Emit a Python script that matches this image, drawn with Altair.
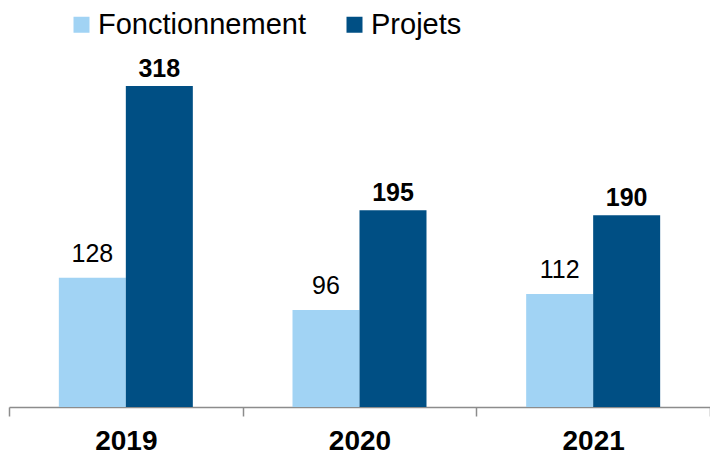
import altair as alt
import pandas as pd

years = ["2019", "2020", "2021"]
series = ["Fonctionnement", "Projets"]
fonctionnement = [128, 96, 112]
projets = [318, 195, 190]
colors = ["#A1D3F4", "#004F84"]

rows = []
for i, y in enumerate(years):
    rows.append({"annee": y, "serie": series[0], "valeur": fonctionnement[i]})
    rows.append({"annee": y, "serie": series[1], "valeur": projets[i]})
df = pd.DataFrame(rows)

FONT = "Liberation Sans"

x = alt.X(
    "annee:N",
    sort=years,
    title=None,
    scale=alt.Scale(paddingInner=0, paddingOuter=0),
    axis=alt.Axis(
        labelFont=FONT, labelFontSize=28, labelFontWeight="bold", labelColor="#000000",
        labelAngle=0, labelPadding=11,
        domainColor="#8C8C8C", domainWidth=1.5,
        tickColor="#8C8C8C", tickWidth=1.5, tickSize=9, tickBand="extent",
    ),
)
xo = alt.XOffset("serie:N", sort=series, scale=alt.Scale(paddingInner=0, paddingOuter=0.744))
y = alt.Y("valeur:Q", axis=None, scale=alt.Scale(domain=[0, 318], nice=False, zero=True))

bars = alt.Chart(df).mark_bar(size=67).encode(
    x=x, xOffset=xo, y=y,
    color=alt.Color(
        "serie:N",
        sort=series,
        scale=alt.Scale(domain=series, range=colors),
        legend=alt.Legend(
            title=None, orient="none", direction="horizontal",
            legendX=58, legendY=-76, padding=0,
            symbolType="square", symbolSize=256, symbolStrokeWidth=0,
            labelFont=FONT, labelFontSize=29, labelColor="#000000", labelLimit=0,
            labelOffset=2, columnPadding=34,
        ),
    ),
)

txt_f = alt.Chart(df).transform_filter(alt.datum.serie == "Fonctionnement").mark_text(
    font=FONT, fontSize=25, color="#000000", baseline="alphabetic", dy=-16
).encode(x=x, xOffset=xo, y=y, text="valeur:Q")

txt_p = alt.Chart(df).transform_filter(alt.datum.serie == "Projets").mark_text(
    font=FONT, fontSize=25, fontWeight="bold", color="#000000", baseline="alphabetic", dy=-9
).encode(x=x, xOffset=xo, y=y, text="valeur:Q")

chart = alt.layer(bars, txt_f, txt_p).properties(
    width=701, height=321,
    autosize=alt.AutoSizeParams(type="none"),
    padding={"left": 9, "top": 86, "right": 0, "bottom": 47},
).configure_view(stroke=None)

chart.save("out.html", embed_options={"renderer": "svg", "actions": False})
